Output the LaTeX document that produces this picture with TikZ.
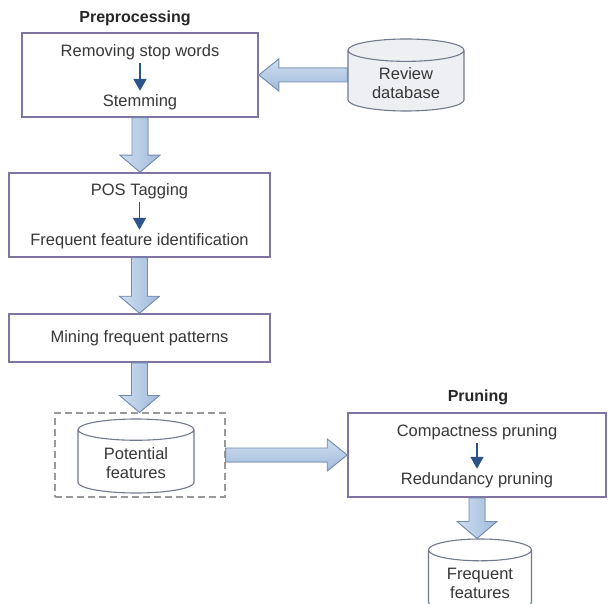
\documentclass[tikz,border=0pt]{standalone}
\usepackage{fontspec}
\setmainfont{Liberation Sans}
\usepackage{tikz}
\usetikzlibrary{calc}
\usetikzlibrary{shapes.geometric}
\usetikzlibrary{arrows.meta}

\definecolor{boxline}{RGB}{128,116,162}
\definecolor{cylline}{RGB}{112,122,140}
\definecolor{arrowline}{RGB}{112,140,178}
\definecolor{arrowlight}{RGB}{208,222,240}
\definecolor{arrowdark}{RGB}{160,186,218}
\definecolor{smallarrow}{RGB}{44,84,134}
\definecolor{txt}{RGB}{55,55,55}

\tikzset{
  stepbox/.style={draw=boxline, line width=1.6pt, fill=white},
  dbase/.style={cylinder, shape border rotate=90, draw=cylline, line width=1.1pt, aspect=0.3, align=center, anchor=shape center},
  fatarrow/.style={draw=arrowline, line width=0.9pt, line join=miter},
  thin arrow/.style={draw=smallarrow, line width=1.7pt, -{Triangle[width=13pt,length=12pt]}},
  title/.style={font=\fontsize{16}{19}\selectfont\bfseries, text=black!85}
}

% block arrow going down
\newcommand{\fatdown}[2]{%
  \filldraw[fatarrow, left color=arrowlight, right color=arrowdark] let \p1=(#1), \p2=(#2) in
    (\x1-8pt,\y1) -- (\x1+8pt,\y1) -- (\x1+8pt,\y2+17pt) -- (\x1+20pt,\y2+17pt)
    -- (\x1,\y2) -- (\x1-20pt,\y2+17pt) -- (\x1-8pt,\y2+17pt) -- cycle;}
% block arrow going sideways
\newcommand{\fatside}[2]{%
  \filldraw[fatarrow, top color=arrowlight, bottom color=arrowdark] let \p1=(#1), \p2=(#2), \p3=($(#2)!20pt!(#1)$) in
    (\x1,\y1-7pt) -- (\x3,\y1-7pt) -- (\x3,\y1-16pt) -- (\x2,\y1)
    -- (\x3,\y1+16pt) -- (\x3,\y1+7pt) -- (\x1,\y1+7pt) -- cycle;}

\begin{document}
\begin{tikzpicture}[x=1pt, y=-1pt, font=\fontsize{16.5}{19}\selectfont, text=txt]
\useasboundingbox (0,0) rectangle (608,604);

% preprocessing
\node[title] (pretitle) at (135,18) {Preprocessing};
\node[stepbox, minimum width=236pt, minimum height=84pt] (pre) at (140,75) {};
\node (stop) at (140,52) {Removing stop words};
\node (stem) at (140,102) {Stemming};
\draw[thin arrow] (stop.south) -- (stem.north);

\node[dbase, fill={rgb,255:red,238;green,239;blue,242}, minimum width=116pt, minimum height=72pt] (review) at (406,75) {Review\\database};
\fatside{review.west |- pre.east}{pre.east}

% tagging
\node[stepbox, minimum width=261pt, minimum height=84pt] (tag) at (139.5,215) {};
\node (pos) at (139.5,191) {POS Tagging};
\node (ffi) at (139.5,241) {Frequent feature identification};
\draw[thin arrow] (pos.south) -- (ffi.north);
\fatdown{pre.south}{tag.north}

% mining
\node[stepbox, minimum width=261pt, minimum height=48pt] (mine) at (139.5,338) {Mining frequent patterns};
\fatdown{tag.south}{mine.north}

% potential features
\node[draw=gray!80, dashed, dash pattern=on 7pt off 4pt, line width=1.1pt, minimum width=170pt, minimum height=84pt] (potbox) at (140,455) {};
\node[dbase, fill=white, minimum width=116pt, minimum height=74pt] (pot) at (136,456) {Potential\\features};
\fatdown{mine.south}{potbox.north}

% pruning
\node[title] (prtitle) at (478,397) {Pruning};
\node[stepbox, minimum width=258pt, minimum height=84pt] (prune) at (477,455) {};
\node (compact) at (477,432) {Compactness pruning};
\node (redund) at (477,480) {Redundancy pruning};
\draw[thin arrow] (compact.south) -- (redund.north);
\fatside{potbox.east}{prune.west}

\node[dbase, fill=white, minimum width=103pt, minimum height=74pt] (freq) at (480,576) {Frequent\\features};
\fatdown{prune.south}{freq.north}

\end{tikzpicture}
\end{document}
